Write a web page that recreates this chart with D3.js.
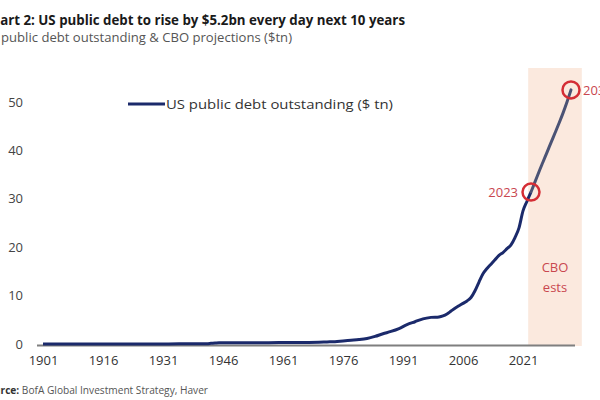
<!DOCTYPE html>
<html><head><meta charset="utf-8">
<script src="https://cdn.jsdelivr.net/npm/d3@7"></script>
<style>body{margin:0;background:#fff;overflow:hidden}svg{display:block}text{font-family:"Open Sans","Noto Sans",sans-serif}</style>
</head><body><svg id="c" width="600" height="400"></svg>
<script>
const years = [1901,1905,1910,1916,1917,1918,1919,1925,1930,1935,1940,1942,1943,1944,1945,1946,1950,1955,1960,1965,1970,1972,1974,1976,1978,1980,1982,1984,1986,1988,1990,1992,1994,1996,1998,2000,2001,2002,2003,2004,2005,2006,2007,2008,2009,2010,2011,2012,2013,2014,2015,2016,2017,2018,2019,2020,2021,2022,2023];
const debt = [0.001,0.001,0.001,0.001,0.003,0.012,0.025,0.021,0.016,0.029,0.043,0.072,0.137,0.201,0.259,0.269,0.257,0.274,0.29,0.32,0.37,0.43,0.48,0.63,0.77,0.91,1.14,1.57,2.12,2.6,3.2,4.0,4.6,5.2,5.5,5.6,5.8,6.2,6.8,7.4,7.9,8.4,8.9,9.6,11.0,12.8,14.5,15.6,16.5,17.4,18.3,18.9,19.7,20.5,22.0,24.0,27.5,29.5,31.4];
const projYears = [2023,2024,2025,2026,2027,2028,2029,2030,2031,2032,2033];
const projDebt = [31.4,33.5,35.6,37.6,39.6,41.6,43.6,45.6,47.7,50.0,52.5];
const xTicks = [1901,1916,1931,1946,1961,1976,1991,2006,2021];
const yTicks = [0,10,20,30,40,50];
const cboBand = [2022.3, 2035.7];
const title = "Chart 2: US public debt to rise by $5.2bn every day next 10 years";
const subtitle = "US public debt outstanding & CBO projections ($tn)";
const legendLabel = "US public debt outstanding ($ tn)";

const svg = d3.select("#c");
const x = d3.scaleLinear().domain([1901, 2033]).range([43, 571]);
const y = d3.scaleLinear().domain([0, 50]).range([344, 102]);

// CBO band
svg.append("rect").attr("x", x(cboBand[0])).attr("width", x(cboBand[1]) - x(cboBand[0]))
  .attr("y", 68).attr("height", y(0) - 68 + 2).attr("fill", "#fbe9de");

// title etc
svg.append("text").attr("x", -17).attr("y", 25).attr("font-size", 15).attr("font-weight", "bold")
  .attr("fill", "#1a1a1a").attr("textLength", 422).attr("lengthAdjust", "spacingAndGlyphs").text(title);
svg.append("text").attr("x", -19).attr("y", 42).attr("font-size", 13)
  .attr("fill", "#555").attr("textLength", 311).attr("lengthAdjust", "spacingAndGlyphs").text(subtitle);
const src = svg.append("text").attr("x", -18).attr("y", 394).attr("font-size", 10).attr("fill", "#555")
  .attr("textLength", 226).attr("lengthAdjust", "spacingAndGlyphs");
src.append("tspan").attr("font-weight", "bold").attr("fill", "#333").text("Source: ");
src.append("tspan").text("BofA Global Investment Strategy, Haver");

// y axis labels
const yAxis = d3.axisLeft(y).tickValues(yTicks).tickSize(0).tickPadding(0);
const gy = svg.append("g").attr("transform", "translate(23,0)").call(yAxis);
gy.select(".domain").remove();
gy.selectAll("text").attr("font-size", 13).attr("fill", "#444").attr("font-family", '"Open Sans",sans-serif');

// x axis
const xAxis = d3.axisBottom(x).tickValues(xTicks).tickFormat(d3.format("d")).tickSize(0).tickPadding(12);
const gx = svg.append("g").attr("transform", `translate(0,${y(0)})`).call(xAxis);
gx.select(".domain").remove();
gx.selectAll("text").attr("font-size", 13).attr("fill", "#333").attr("font-family", '"Open Sans",sans-serif');
svg.append("line").attr("x1", 37).attr("x2", 575).attr("y1", y(0) + 1.5).attr("y2", y(0) + 1.5)
  .attr("stroke", "#7f7f7f").attr("stroke-width", 2);

// lines
const line = d3.line().x(d => x(d[0])).y(d => y(d[1])).curve(d3.curveMonotoneX);
svg.append("path").datum(years.map((yr, i) => [yr, debt[i]])).attr("d", line)
  .attr("fill", "none").attr("stroke", "#1b2a6b").attr("stroke-width", 3).attr("stroke-linejoin", "round");
svg.append("path").datum(projYears.map((yr, i) => [yr, projDebt[i]])).attr("d", line)
  .attr("fill", "none").attr("stroke", "#4b5375").attr("stroke-width", 3).attr("stroke-linecap", "round");

// circles
const marks = [[2023, 31.4, "2023"], [2033, 52.5, "2033"]];
svg.selectAll("circle.m").data(marks).join("circle").attr("class", "m")
  .attr("cx", d => x(d[0])).attr("cy", d => y(d[1])).attr("r", 8.5)
  .attr("fill", "none").attr("stroke", "#d42d35").attr("stroke-width", 2.5);
svg.append("text").attr("x", x(2023) - 13).attr("y", y(31.4) + 5).attr("text-anchor", "end")
  .attr("font-size", 13).attr("fill", "#c9474f").text("2023");
svg.append("text").attr("x", x(2033) + 12).attr("y", y(52.5) + 5)
  .attr("font-size", 13).attr("fill", "#c9474f").text("2033");

// CBO ests label
const bx = (x(cboBand[0]) + x(cboBand[1])) / 2;
svg.append("text").attr("x", bx).attr("y", 272).attr("text-anchor", "middle").attr("font-size", 13).attr("fill", "#c9474f").text("CBO");
svg.append("text").attr("x", bx).attr("y", 292).attr("text-anchor", "middle").attr("font-size", 13).attr("fill", "#c9474f").text("ests");

// legend
svg.append("line").attr("x1", 128).attr("x2", 165).attr("y1", 104).attr("y2", 104).attr("stroke", "#1b2a6b").attr("stroke-width", 3);
svg.append("text").attr("x", 166).attr("y", 109).attr("font-size", 13.5).attr("fill", "#333")
  .attr("textLength", 227).attr("lengthAdjust", "spacingAndGlyphs").text(legendLabel);
</script></body></html>
